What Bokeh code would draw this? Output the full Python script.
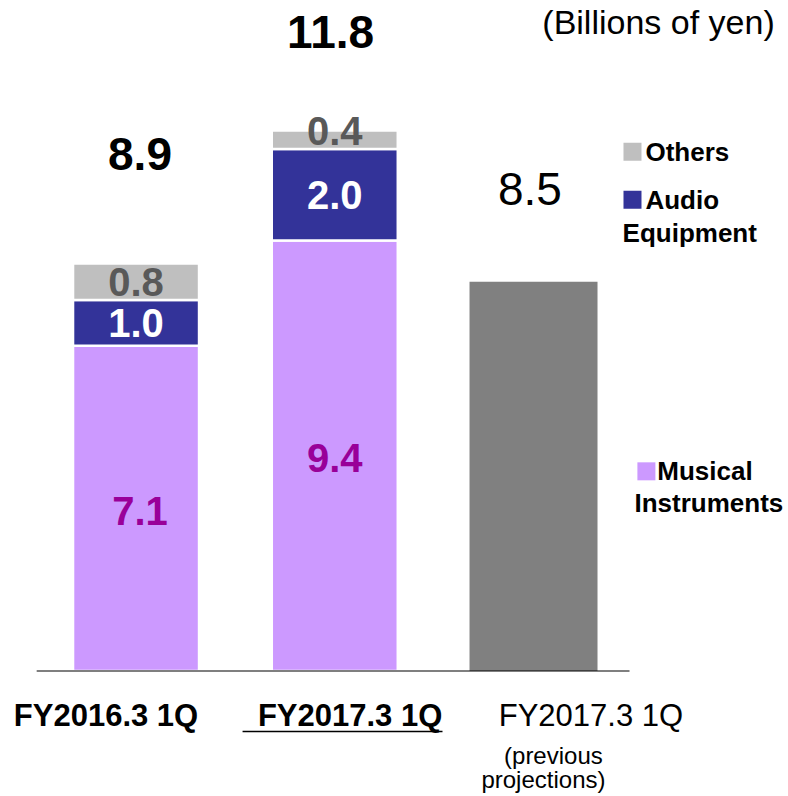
from bokeh.plotting import figure
from bokeh.models import ColumnDataSource, Range1d
from bokeh.core.properties import value
from bokeh.embed import file_html
from bokeh.resources import INLINE

# ---- data ----
periods = ["FY2016.3 1Q", "FY2017.3 1Q", "FY2017.3 1Q"]
musical = [7.1, 9.4]
audio = [1.0, 2.0]
others = [0.8, 0.4]
totals = [8.9, 11.8]
projection = 8.5
seg_names = ["Others", "Audio\nEquipment", "Musical\nInstruments"]

C_MUS = "#CC99FF"
C_AUD = "#333399"
C_OTH = "#BFBFBF"
C_PRJ = "#808080"
FONT = "Liberation Sans"

W, H = 788, 796
p = figure(width=W, height=H, output_backend="svg", toolbar_location=None,
           x_range=Range1d(-0.682, 3.283), y_range=Range1d(-2.74, 14.64),
           min_border=0)
p.axis.visible = False
p.grid.visible = False
p.outline_line_color = None

xs = [0, 1]
bw = 0.634
src = ColumnDataSource(dict(
    x=xs,
    b1=[m for m in musical],
    t1=[m + a for m, a in zip(musical, audio)],
    t2=[m + a + o for m, a, o in zip(musical, audio, others)],
))
p.vbar(x="x", bottom=0, top="b1", width=bw, source=src, fill_color=C_MUS, line_color="white", line_width=2.5)
p.vbar(x="x", bottom="b1", top="t1", width=bw, source=src, fill_color=C_AUD, line_color="white", line_width=2.5)
p.vbar(x="x", bottom="t1", top="t2", width=bw, source=src, fill_color=C_OTH, line_color="white", line_width=2.5)
p.vbar(x=[2], bottom=0, top=[projection], width=0.644, fill_color=C_PRJ, line_color=None)

# baseline
p.segment(x0=[-0.5], y0=[0], x1=[2.483], y1=[0], line_color="black", line_width=1.2)

# segment labels
mus_mid = [m / 2 for m in musical]
aud_mid = [m + a / 2 for m, a in zip(musical, audio)]
oth_mid = [m + a + o / 2 for m, a, o in zip(musical, audio, others)]
p.text(x=[0.02, 1.0], y=[y - 0.05 for y in mus_mid], text=[f"{v:.1f}" for v in musical],
       text_color="#990099", text_font=value(FONT), text_font_style="bold", text_font_size="40px",
       text_align="center", text_baseline="middle")
p.text(x=[0.0, 1.0], y=aud_mid, text=[f"{v:.1f}" for v in audio],
       text_color="white", text_font=value(FONT), text_font_style="bold", text_font_size="40px",
       text_align="center", text_baseline="middle")
p.text(x=[0.0, 1.0], y=[oth_mid[0], totals[1] - 0.02], text=[f"{v:.1f}" for v in others],
       text_color="#595959", text_font=value(FONT), text_font_style="bold", text_font_size="40px",
       text_align="center", text_baseline="middle")

# totals
p.text(x=[0.02, 0.979], y=[totals[0] + 2.38, totals[1] + 2.16],
       text=[f"{t:.1f}" for t in totals], text_color="black", text_font=value(FONT),
       text_font_style="bold", text_font_size="46px", text_align="center", text_baseline="middle")
p.text(x=[1.982], y=[projection + 2.03], text=[f"{projection:.1f}"], text_color="black",
       text_font=value(FONT), text_font_size="46px", text_align="center", text_baseline="middle")

# unit
p.text(x=[2.629], y=[14.16], text=["(Billions of yen)"], text_color="black", text_font=value(FONT),
       text_font_size="34px", text_align="center", text_baseline="middle")

# legend
p.rect(x=[2.498, 2.498, 2.568], y=[11.34, 10.29, 4.36], width=18, height=18,
       width_units="screen", height_units="screen",
       fill_color=[C_OTH, C_AUD, C_MUS], line_color=None)
p.text(x=[2.563, 2.563, 2.623], y=[11.34, 10.29, 4.36],
       text=[seg_names[0], seg_names[1].split("\n")[0], seg_names[2].split("\n")[0]],
       text_color="black", text_font=value(FONT), text_font_style="bold", text_font_size="26px",
       text_align="left", text_baseline="middle")
p.text(x=[2.448, 2.508], y=[9.57, 3.66],
       text=[seg_names[1].split("\n")[1], seg_names[2].split("\n")[1]],
       text_color="black", text_font=value(FONT), text_font_style="bold", text_font_size="26px",
       text_align="left", text_baseline="middle")

# category labels
p.text(x=[-0.151, 1.077], y=[-0.97, -0.97], text=periods[:2],
       text_color="black", text_font=value(FONT), text_font_style="bold", text_font_size="31px",
       text_align="center", text_baseline="middle")
p.text(x=[2.289], y=[-0.97], text=[periods[2]], text_color="black", text_font=value(FONT),
       text_font_size="31px", text_align="center", text_baseline="middle")
p.segment(x0=[0.536], y0=[-1.32], x1=[1.542], y1=[-1.32], line_color="black", line_width=1.5)
p.text(x=[2.1, 2.05], y=[-1.84, -2.37], text=["(previous", "projections)"], text_color="black",
       text_font=value(FONT), text_font_size="24px", text_align="center", text_baseline="middle")

open("out.html", "w").write(file_html(p, INLINE))
